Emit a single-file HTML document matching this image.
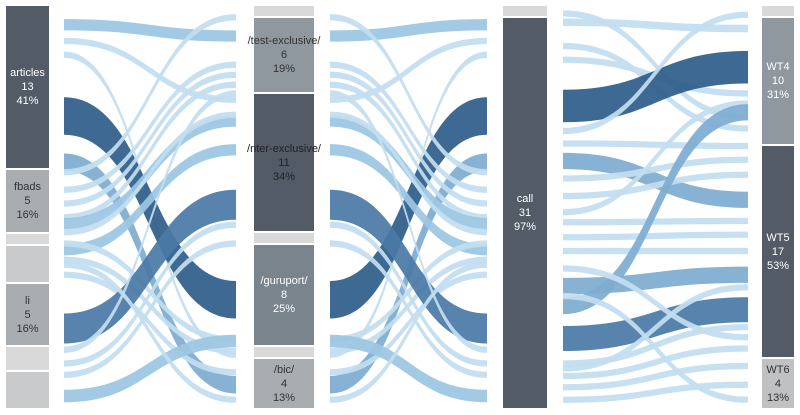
<!DOCTYPE html>
<html><head><meta charset="utf-8"><style>
body{margin:0;width:800px;height:415px;background:#fff;overflow:hidden;font-family:"Liberation Sans",sans-serif;position:relative}
.b{position:absolute;color:#fff;font-size:11px;line-height:14px;text-align:center;display:flex;align-items:center;justify-content:center;white-space:nowrap;overflow:visible}
.dk{color:#333}
svg{position:absolute;left:0;top:0}
</style></head><body>
<svg id="chart" width="800" height="415"></svg>
<script>
// unit scale: y = 6 + u*12.5
const colors=['#2e5e8a','#4a7aa6','#7eacd1','#9cc6e2','#c2def0'];
const l1From=[1.5,2.8,3.9,8.8,12.5,13.3,14.7,15.8,16.9,17.4,18.1,19.5,19.0,20.3,21.5,25.8,27.5,28.6,29.5,31.2,20.7];
const l1To  =[2.4,7.5,27.9,23.5,30.3,0.9,4.7,5.5,6.3,9.2,8.7,11.5,26.7,27.6,29.3,15.9,7.0,17.5,19.0,26.8,31.5];
const l1W   =[0.9,0.5,0.5,3.0,1.4,0.5,0.5,0.5,0.5,0.9,0.5,0.9,0.5,0.5,0.5,2.4,0.5,0.5,0.5,1.0,0.5];
const l1C   =[3,4,4,0,2,4,4,4,4,3,4,3,4,4,4,1,4,4,4,3,4];
const l3From=[0.6,1.3,3.2,4.3,8.0,10.0,11.0,12.4,13.8,15.2,16.5,17.3,18.5,19.6,22.4,24.0,26.6,21.0,28.6,29.6,30.5,31.5,23.2,29.0];
const l3To  =[8.9,1.8,9.8,7.0,4.9,0.7,11.2,15.5,12.3,13.5,7.8,17.2,18.3,19.6,21.5,8.5,24.3,26.5,25.7,27.4,28.8,30.3,31.5,22.5];
const l3W   =[0.5,0.6,0.5,0.5,2.6,0.5,0.5,1.3,0.5,0.5,0.5,0.5,0.5,0.5,1.3,1.3,2.0,0.5,0.5,0.5,0.5,0.5,0.5,0.5];
const l3C   =[4,4,4,4,0,4,4,2,4,4,4,4,4,4,2,2,1,4,4,4,4,4,4,4];
const U=12.5, Y0=6;
function y(u){return Y0+u*U;}
const svg=document.getElementById('chart');
function link(x0,x1,f,t,w,c,name){
  const h=w*U/2, a=y(f), b=y(t), m=(x0+x1)/2;
  const d=`M${x0},${a-h} C${m},${a-h} ${m},${b-h} ${x1},${b-h} L${x1},${b+h} C${m},${b+h} ${m},${a+h} ${x0},${a+h} Z`;
  const p=document.createElementNS('http://www.w3.org/2000/svg','path');
  p.setAttribute('d',d);p.setAttribute('fill',colors[c]);p.setAttribute('fill-opacity','0.93');
  
  
  svg.appendChild(p);
}
for(let i=0;i<l1From.length;i++){link(64,236,l1From[i],l1To[i],l1W[i],l1C[i],'flow-source-to-page-'+i);}
for(let i=0;i<l1From.length;i++){link(330,487,l1To[i],l1From[i],l1W[i],l1C[i],'flow-page-to-action-'+i);}
for(let i=0;i<l3From.length;i++){link(563,748,l3From[i],l3To[i],l3W[i],l3C[i],'flow-action-to-wt-'+i);}
</script>
<!-- column 1 -->
<div class="b" style="left:6px;top:6px;width:43px;height:162px;background:#525b66">articles<br>13<br>41%</div>
<div class="b dk" style="left:6px;top:170px;width:43px;height:62px;background:#a9adb0">fbads<br>5<br>16%</div>
<div class="b" style="left:6px;top:234px;width:43px;height:10px;background:#d9d9d9"></div>
<div class="b" style="left:6px;top:246px;width:43px;height:36px;background:#c9cacb"></div>
<div class="b dk" style="left:6px;top:284px;width:43px;height:61px;background:#a9adb0">li<br>5<br>16%</div>
<div class="b" style="left:6px;top:347px;width:43px;height:23px;background:#d9d9d9"></div>
<div class="b" style="left:6px;top:372px;width:43px;height:36px;background:#c9cacb"></div>
<!-- column 2 -->
<div class="b" style="left:254px;top:6px;width:60px;height:10px;background:#d9d9d9"></div>
<div class="b dk" style="left:254px;top:18px;width:60px;height:74px;background:#8e989e">/test-exclusive/<br>6<br>19%</div>
<div class="b dk" style="left:254px;top:94px;width:60px;height:137px;background:#525b66;color:#222">/nter-exclusive/<br>11<br>34%</div>
<div class="b" style="left:254px;top:233px;width:60px;height:10px;background:#d9d9d9"></div>
<div class="b" style="left:254px;top:245px;width:60px;height:100px;background:#7a848d">/guruport/<br>8<br>25%</div>
<div class="b" style="left:254px;top:347px;width:60px;height:10px;background:#d9d9d9"></div>
<div class="b dk" style="left:254px;top:359px;width:60px;height:49px;background:#a9adb0">/bic/<br>4<br>13%</div>
<!-- column 3 -->
<div class="b" style="left:503px;top:6px;width:44px;height:10px;background:#d9d9d9"></div>
<div class="b" style="left:503px;top:18px;width:44px;height:390px;background:#525b66">call<br>31<br>97%</div>
<!-- column 4 -->
<div class="b" style="left:762px;top:6px;width:32px;height:10px;background:#d9d9d9"></div>
<div class="b" style="left:762px;top:18px;width:32px;height:126px;background:#8e989e">WT4<br>10<br>31%</div>
<div class="b" style="left:762px;top:146px;width:32px;height:211px;background:#525b66">WT5<br>17<br>53%</div>
<div class="b dk" style="left:762px;top:359px;width:32px;height:49px;background:#bfc1c2">WT6<br>4<br>13%</div>
</body></html>
